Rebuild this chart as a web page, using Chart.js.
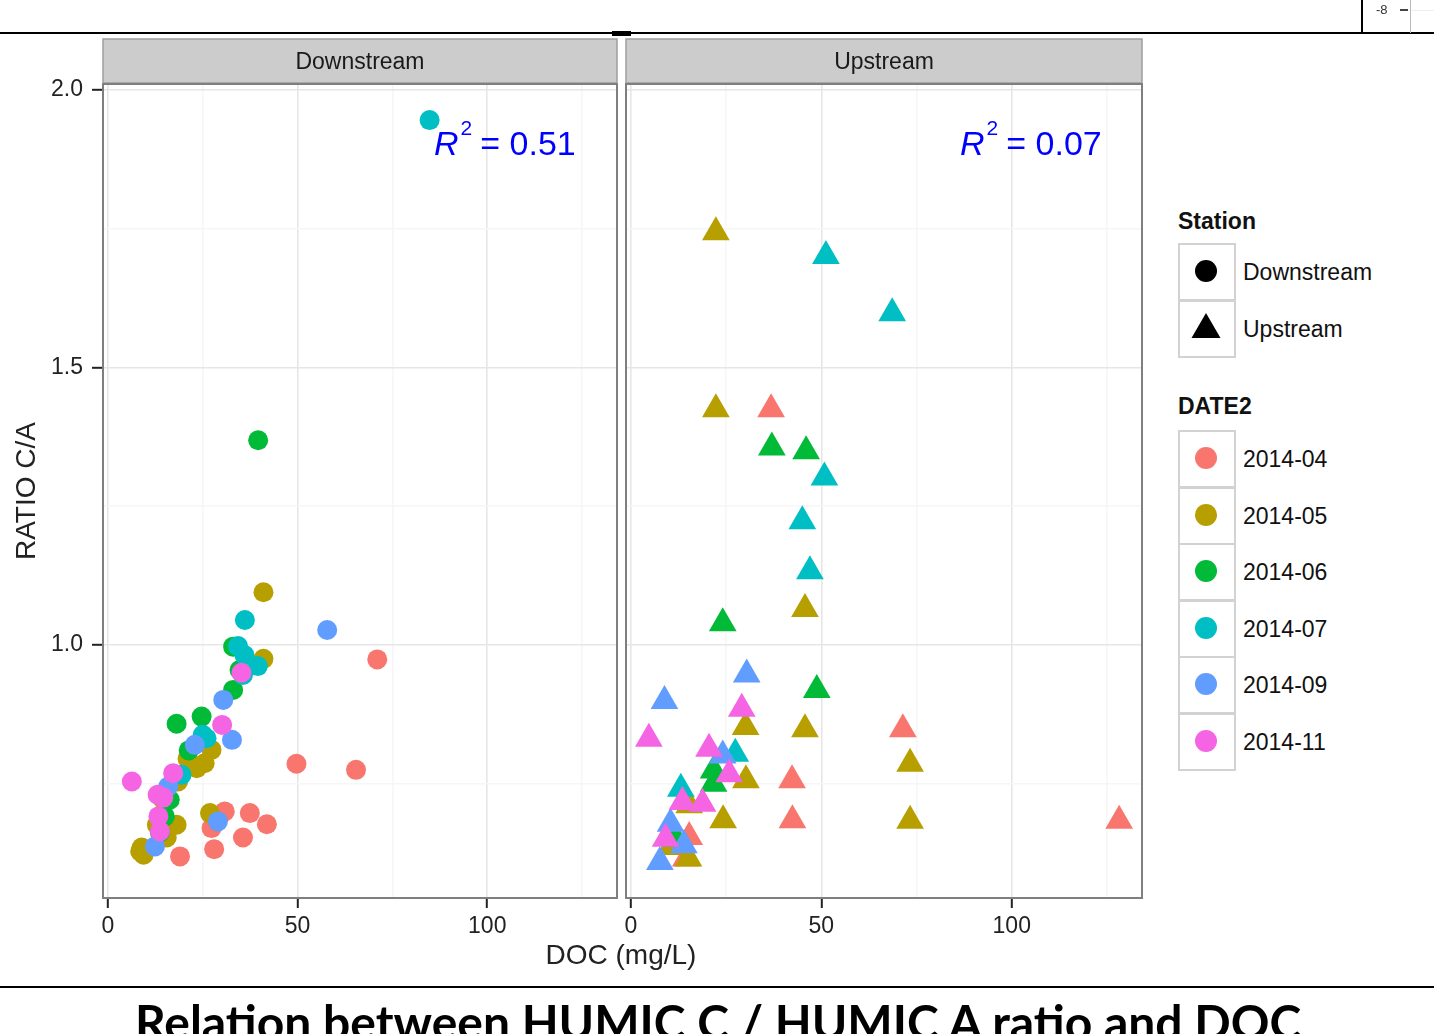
<!DOCTYPE html>
<html><head><meta charset="utf-8">
<script src="https://cdn.jsdelivr.net/npm/chart.js@4.4.0/dist/chart.umd.min.js"></script>
<style>
html,body{margin:0;padding:0;background:#fff;}
body{width:1434px;height:1034px;overflow:hidden;position:relative;font-family:"Liberation Sans",Arial,Helvetica,sans-serif;color:#111;}
.abs{position:absolute;white-space:nowrap;}
canvas{position:absolute;top:0;}
.ln{position:absolute;}
.key{position:absolute;left:1178px;width:58px;height:58px;box-sizing:border-box;border:2px solid #d2d2d2;background:#fff;}
.key svg{position:absolute;left:0;top:0;}
.lab{position:absolute;left:1243px;font-size:23px;height:30px;line-height:30px;white-space:nowrap;color:#111;}
.ltitle{position:absolute;left:1178px;font-size:23px;font-weight:bold;height:30px;line-height:30px;color:#111;}
</style></head>
<body>
<canvas id="c1" width="622" height="1034" style="left:0;width:622px;height:1034px"></canvas>
<canvas id="c2" width="524" height="1034" style="left:622px;width:524px;height:1034px"></canvas>
<div id="overlay"></div>
<script>
// ---------------- DATA ----------------
const stationLevels = ['Downstream', 'Upstream'];
const dateLevels = ['2014-04', '2014-05', '2014-06', '2014-07', '2014-09', '2014-11'];
const dateColors = ['#F8766D', '#B79F00', '#00BA38', '#00BFC4', '#619CFF', '#F564E3'];

const xTickValues = [0, 25, 50, 75, 100, 125];
const xMajorTicks = [0, 50, 100];
const yTickValues = [0.75, 1.0, 1.25, 1.5, 1.75, 2.0];
const yMajorTicks = [1.0, 1.5, 2.0];

const xTitle = 'DOC (mg/L)';
const yTitle = 'RATIO C/A';
const r2Values = ['0.51', '0.07'];
const figureTitle = 'Relation between HUMIC C / HUMIC A ratio and DOC';
const cornerLabel = '-8';

// Downstream station
const downDOC = [
  71.0, 49.7, 65.4, 30.8, 37.4, 41.9, 27.3, 35.6, 28.0, 19.0,
  41.0, 41.0, 27.3, 25.5, 23.4, 18.5, 14.6, 26.9, 12.9, 18.1, 15.5, 8.9, 9.4, 8.5, 21.0,
  39.6, 33.0, 34.7, 33.0, 18.1, 24.7, 21.3, 16.3, 15.0, 13.7,
  84.8, 36.1, 34.3, 36.0, 39.5, 35.6, 26.0, 19.4, 25.0,
  57.8, 30.4, 32.7, 22.9, 15.9, 29.0, 12.4,
  35.2, 30.1, 6.3, 17.2, 14.6, 13.3, 13.7, 13.1
];
const downRatio = [
  0.974, 0.786, 0.775, 0.700, 0.697, 0.677, 0.670, 0.653, 0.632, 0.619,
  1.095, 0.975, 0.811, 0.787, 0.778, 0.754, 0.721, 0.697, 0.676, 0.676, 0.653, 0.635, 0.622, 0.628, 0.795,
  1.369, 0.997, 0.955, 0.919, 0.858, 0.871, 0.810, 0.721, 0.691, 0.662,
  1.946, 1.045, 0.998, 0.982, 0.962, 0.946, 0.832, 0.766, 0.838,
  1.027, 0.901, 0.829, 0.820, 0.745, 0.682, 0.637,
  0.950, 0.856, 0.754, 0.769, 0.725, 0.691, 0.664, 0.730
];
const downDate = [
  '2014-04','2014-04','2014-04','2014-04','2014-04','2014-04','2014-04','2014-04','2014-04','2014-04',
  '2014-05','2014-05','2014-05','2014-05','2014-05','2014-05','2014-05','2014-05','2014-05','2014-05','2014-05','2014-05','2014-05','2014-05','2014-05',
  '2014-06','2014-06','2014-06','2014-06','2014-06','2014-06','2014-06','2014-06','2014-06','2014-06',
  '2014-07','2014-07','2014-07','2014-07','2014-07','2014-07','2014-07','2014-07','2014-07',
  '2014-09','2014-09','2014-09','2014-09','2014-09','2014-09','2014-09',
  '2014-11','2014-11','2014-11','2014-11','2014-11','2014-11','2014-11','2014-11'
];

// Upstream station
const upDOC = [
  36.8, 71.4, 42.3, 42.4, 128.2, 15.3, 14.4,
  22.3, 22.3, 45.7, 30.1, 45.7, 73.3, 30.2, 15.3, 24.2, 73.3, 10.4, 15.1,
  37.0, 46.0, 24.1, 48.8, 21.7, 21.7, 11.8,
  51.2, 68.6, 50.8, 45.0, 47.0, 27.4, 13.1,
  30.4, 8.8, 24.1, 10.4, 13.9, 7.6,
  29.1, 4.7, 20.5, 25.8, 13.5, 18.8, 9.1
];
const upRatio = [
  1.425, 0.848, 0.756, 0.684, 0.683, 0.654, 0.615,
  1.744, 1.425, 1.065, 0.852, 0.848, 0.786, 0.756, 0.711, 0.684, 0.683, 0.636, 0.615,
  1.356, 1.349, 1.039, 0.919, 0.774, 0.750, 0.651,
  1.701, 1.598, 1.302, 1.223, 1.133, 0.804, 0.741,
  0.947, 0.899, 0.801, 0.678, 0.639, 0.609,
  0.885, 0.831, 0.813, 0.767, 0.717, 0.714, 0.651
];
const upDate = [
  '2014-04','2014-04','2014-04','2014-04','2014-04','2014-04','2014-04',
  '2014-05','2014-05','2014-05','2014-05','2014-05','2014-05','2014-05','2014-05','2014-05','2014-05','2014-05','2014-05',
  '2014-06','2014-06','2014-06','2014-06','2014-06','2014-06','2014-06',
  '2014-07','2014-07','2014-07','2014-07','2014-07','2014-07','2014-07',
  '2014-09','2014-09','2014-09','2014-09','2014-09','2014-09',
  '2014-11','2014-11','2014-11','2014-11','2014-11','2014-11','2014-11'
];

// ---------------- LAYOUT / STYLE ----------------
const FONT = '"Liberation Sans", Arial, Helvetica, sans-serif';
const X_MIN = -1.3, X_MAX = 134.2;
const Y_MIN = 0.544, Y_MAX = 2.011;
const PANEL_TOP = 84, PANEL_BOTTOM = 898, CANVAS_H = 1034;
const STRIP_TOP = 39;
const X_AXIS_H = 50;

function buildDatasets(doc, ratio, dates, shape, radius) {
  return dateLevels.map((lev, i) => {
    const pts = [];
    for (let k = 0; k < doc.length; k++) if (dates[k] === lev) pts.push({x: doc[k], y: ratio[k]});
    return {
      label: lev, data: pts, order: dateLevels.length - i,
      pointStyle: shape, pointRadius: radius, pointHoverRadius: radius,
      pointBackgroundColor: dateColors[i], pointBorderWidth: 0, showLine: false
    };
  });
}

const panelPlugin = {
  id: 'panel',
  beforeDraw(chart) {
    const {ctx, chartArea: a} = chart;
    ctx.save();
    ctx.fillStyle = '#CCCCCC';
    ctx.fillRect(a.left, STRIP_TOP, a.right - a.left, a.top - 1 - STRIP_TOP);
    ctx.strokeStyle = '#9E9E9E';
    ctx.lineWidth = 1.5;
    ctx.strokeRect(a.left, STRIP_TOP, a.right - a.left, a.top - 1 - STRIP_TOP);
    ctx.restore();
  },
  afterDraw(chart) {
    const {ctx, chartArea: a} = chart;
    ctx.save();
    ctx.strokeStyle = '#7F7F7F';
    ctx.lineWidth = 2;
    ctx.strokeRect(a.left, a.top, a.right - a.left, a.bottom - a.top);
    ctx.restore();
  }
};

function isMajor(list, v) { return list.some(m => Math.abs(m - v) < 1e-6); }
function zeroPad(s) { s.paddingLeft = 0; s.paddingRight = 0; s.paddingTop = 0; s.paddingBottom = 0; }

function makeChart(id, doc, ratio, dates, shape, radius, yWidth, padRight, showYLabels) {
  return new Chart(document.getElementById(id), {
    type: 'scatter',
    data: {datasets: buildDatasets(doc, ratio, dates, shape, radius)},
    options: {
      responsive: false, animation: false, events: [],
      layout: {autoPadding: false, padding: {top: PANEL_TOP, right: padRight, left: 0, bottom: CANVAS_H - PANEL_BOTTOM - X_AXIS_H}},
      plugins: {legend: {display: false}, tooltip: {enabled: false}},
      scales: {
        x: {
          type: 'linear', min: X_MIN, max: X_MAX,
          afterBuildTicks: s => { s.ticks = xTickValues.map(v => ({value: v})); },
          afterFit: s => { s.height = X_AXIS_H; zeroPad(s); },
          border: {display: false},
          grid: {
            color: c => isMajor(xMajorTicks, c.tick.value) ? '#E6E6E6' : '#F6F6F6',
            lineWidth: 1.6,
            tickColor: c => isMajor(xMajorTicks, c.tick.value) ? '#222' : 'rgba(0,0,0,0)',
            tickLength: 10, tickWidth: 2, drawTicks: true
          },
          ticks: {
            autoSkip: false, maxRotation: 0, padding: 5, color: '#222',
            font: {family: FONT, size: 23},
            callback: v => isMajor(xMajorTicks, v) ? String(v) : ''
          }
        },
        y: {
          type: 'linear', min: Y_MIN, max: Y_MAX,
          afterBuildTicks: s => { s.ticks = yTickValues.map(v => ({value: v})); },
          afterFit: s => { s.width = yWidth; zeroPad(s); },
          border: {display: false},
          title: showYLabels ? {display: true, text: yTitle, color: '#222', font: {family: FONT, size: 28}, padding: {top: 10, bottom: 0}} : {display: false},
          grid: {
            color: c => isMajor(yMajorTicks, c.tick.value) ? '#E6E6E6' : '#F6F6F6',
            lineWidth: 1.6,
            tickColor: c => isMajor(yMajorTicks, c.tick.value) ? '#222' : 'rgba(0,0,0,0)',
            tickLength: showYLabels ? 11 : 0, tickWidth: 2, drawTicks: showYLabels
          },
          ticks: {
            display: showYLabels, autoSkip: false, padding: 9, color: '#222',
            font: {family: FONT, size: 23},
            callback: v => isMajor(yMajorTicks, v) ? v.toFixed(1) : ''
          }
        }
      }
    },
    plugins: [panelPlugin]
  });
}

const chart1 = makeChart('c1', downDOC, downRatio, downDate, 'circle', 10, 103, 5, true);
const chart2 = makeChart('c2', upDOC, upRatio, upDate, 'triangle', 16, 4, 4, false);

// ---------------- HTML TEXT / DECORATION ----------------
const ov = document.getElementById('overlay');
function add(html) { const d = document.createElement('div'); d.innerHTML = html; const el = d.firstElementChild; ov.appendChild(el); return el; }
function placeBaseline(el, baselineY) {
  const m = document.createElement('span');
  m.style.cssText = 'display:inline-block;width:0;height:0;vertical-align:baseline;';
  el.appendChild(m);
  el.style.top = '0px';
  const off = m.getBoundingClientRect().top - el.getBoundingClientRect().top;
  el.style.top = (baselineY - off) + 'px';
  m.remove();
}

// top decoration
add('<div class="ln" style="left:0;top:32px;width:1434px;height:2px;background:#000"></div>');
add('<div class="ln" style="left:1361px;top:0;width:2px;height:33px;background:#000"></div>');
add('<div class="ln" style="left:1410px;top:0;width:1px;height:33px;background:#bbb"></div>');
add('<div class="ln" style="left:1411px;top:10px;width:23px;height:1px;background:#eee"></div>');
add('<div class="ln" style="left:1400px;top:9px;width:8px;height:2px;background:#444"></div>');
add('<div class="ln" style="left:612px;top:31px;width:19px;height:5px;background:#000"></div>');
add('<div class="abs" style="left:1376px;top:1px;font-size:13px;line-height:18px;color:#333">' + cornerLabel + '</div>');

// strip labels
const a1 = chart1.chartArea, a2 = chart2.chartArea;
const stripCy = (STRIP_TOP + PANEL_TOP) / 2;
[[a1.left, a1.right, stationLevels[0]], [622 + a2.left, 622 + a2.right, stationLevels[1]]].forEach(([l, r, t]) => {
  add('<div class="abs" style="left:' + l + 'px;width:' + (r - l) + 'px;top:' + (stripCy - 16) + 'px;height:30px;line-height:30px;text-align:center;font-size:23px;color:#1a1a1a">' + t + '</div>');
});

// R^2 annotations
[[434, r2Values[0]], [960, r2Values[1]]].forEach(([x, v]) => {
  const el = add('<div class="abs" style="left:' + x + 'px;font-size:34px;line-height:40px;color:#0000FF"><span style="font-style:italic">R</span><span style="font-size:21px;position:relative;top:-20px;margin-left:2px">2</span><span style="margin-left:8px">= ' + v + '</span></div>');
  placeBaseline(el, 155);
});

// x axis title
add('<div class="abs" style="left:421px;width:400px;top:937px;height:36px;line-height:36px;text-align:center;font-size:28px;color:#222">' + xTitle + '</div>');

// bottom line and title
add('<div class="ln" style="left:0;top:986px;width:1434px;height:2px;background:#000"></div>');
(function () {
  const c = document.createElement('canvas').getContext('2d');
  const fam = 'Lato, "Open Sans", sans-serif';
  c.font = 'bold 100px ' + fam;
  const w = c.measureText(figureTitle).width;
  const fs = 100 * 1170 / w;
  const el = add('<div class="abs" style="left:135px;font-family:' + fam.replace(/"/g, "'") + ';font-weight:bold;font-size:' + fs.toFixed(1) + 'px;line-height:1;color:#000">' + figureTitle + '</div>');
  placeBaseline(el, 1040);
})();

// legend
add('<div class="ltitle" style="top:206px">Station</div>');
const circleSvg = col => '<svg width="54" height="54"><circle cx="26" cy="26" r="11" fill="' + col + '"/></svg>';
const triSvg = col => '<svg width="54" height="54"><polygon points="26,11 40.5,36 11.5,36" fill="' + col + '"/></svg>';
stationLevels.forEach((s, i) => {
  const top = 243 + i * 57;
  add('<div class="key" style="top:' + top + 'px">' + (i === 0 ? circleSvg('#000') : triSvg('#000')) + '</div>');
  add('<div class="lab" style="top:' + (top + 14) + 'px">' + s + '</div>');
});
add('<div class="ltitle" style="top:391px">DATE2</div>');
dateLevels.forEach((d, i) => {
  const top = 430 + i * 56.5;
  add('<div class="key" style="top:' + top + 'px">' + circleSvg(dateColors[i]) + '</div>');
  add('<div class="lab" style="top:' + (top + 14) + 'px">' + d + '</div>');
});
</script>
</body></html>
